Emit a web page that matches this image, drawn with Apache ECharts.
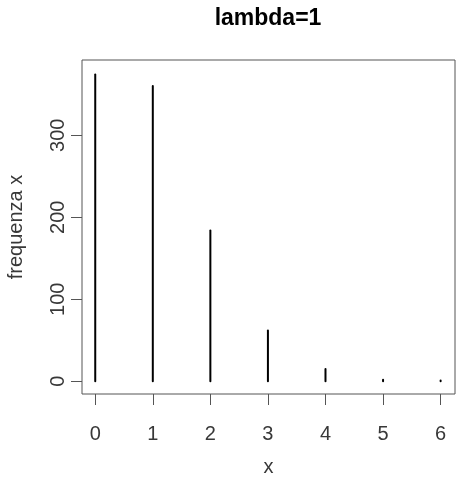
<!DOCTYPE html>
<html>
<head>
<meta charset="utf-8">
<script src="https://cdn.jsdelivr.net/npm/echarts@6/dist/echarts.min.js"></script>
<style>
  html, body { margin: 0; padding: 0; background: #ffffff; }
  #chart { width: 457px; height: 487px; }
</style>
</head>
<body>
<div id="chart"></div>
<script>
// Observed counts for each value of x (Poisson sample, lambda = 1)
const xValues = [0, 1, 2, 3, 4, 5, 6];
const frequencies = [374, 360, 184, 62, 15, 2, 1];

// Tick positions on both axes
const xTicks = [0, 1, 2, 3, 4, 5, 6];
const yTicks = [0, 100, 200, 300];

// Texts
const chartTitle = 'lambda=1';
const xTitle = 'x';
const yTitle = 'frequenza x';

const FONT = '"Liberation Sans", Arial, sans-serif';
const AXIS_COLOR = '#555555';
const TEXT_COLOR = '#383838';

const points = xValues.map((x, i) => [x, frequencies[i]]);

// Vertical spike from zero up to the count, like a "type = h" plot
function renderSpike(params, api) {
  const x = api.value(0);
  const top = api.coord([x, api.value(1)]);
  const base = api.coord([x, 0]);
  return {
    type: 'line',
    shape: { x1: base[0], y1: base[1], x2: top[0], y2: top[1] },
    style: { stroke: '#000000', lineWidth: 2, lineCap: 'round' },
    silent: true
  };
}

const chart = echarts.init(document.getElementById('chart'), null, { renderer: 'canvas' });

chart.setOption({
  animation: false,
  backgroundColor: '#ffffff',
  grid: {
    left: 82, top: 60, right: 2, bottom: 93,
    containLabel: false,
    outerBoundsMode: 'none',
    show: true,
    borderColor: AXIS_COLOR,
    borderWidth: 1,
    backgroundColor: 'transparent'
  },
  graphic: [{
    type: 'text',
    x: 268,
    y: 7,
    style: {
      text: chartTitle,
      fill: '#000000',
      font: 'bold 23px ' + FONT,
      textAlign: 'center',
      textVerticalAlign: 'top'
    }
  }],
  xAxis: {
    type: 'value',
    min: -0.23,
    max: 6.25,
    splitLine: { show: false },
    axisLine: { show: false, onZero: false },
    axisTick: {
      show: true,
      inside: false,
      length: 11,
      customValues: xTicks,
      lineStyle: { color: AXIS_COLOR, width: 1 }
    },
    axisLabel: {
      customValues: xTicks,
      margin: 30,
      fontSize: 20,
      fontFamily: FONT,
      color: TEXT_COLOR
    },
    name: xTitle,
    nameLocation: 'middle',
    nameGap: 63,
    nameTextStyle: { fontSize: 20, fontFamily: FONT, color: TEXT_COLOR }
  },
  yAxis: {
    type: 'value',
    min: -15.5,
    max: 391.8,
    splitLine: { show: false },
    axisLine: { show: false, onZero: false },
    axisTick: {
      show: true,
      inside: false,
      length: 11,
      customValues: yTicks,
      lineStyle: { color: AXIS_COLOR, width: 1 }
    },
    axisLabel: {
      customValues: yTicks,
      rotate: 90,
      margin: 14,
      fontSize: 20,
      fontFamily: FONT,
      color: TEXT_COLOR
    },
    name: yTitle,
    nameLocation: 'middle',
    nameRotate: 90,
    nameGap: 56,
    nameTextStyle: { fontSize: 20, fontFamily: FONT, color: TEXT_COLOR }
  },
  series: [{
    type: 'custom',
    data: points,
    renderItem: renderSpike,
    encode: { x: 0, y: 1 },
    clip: false,
    silent: true
  }]
});
</script>
</body>
</html>
